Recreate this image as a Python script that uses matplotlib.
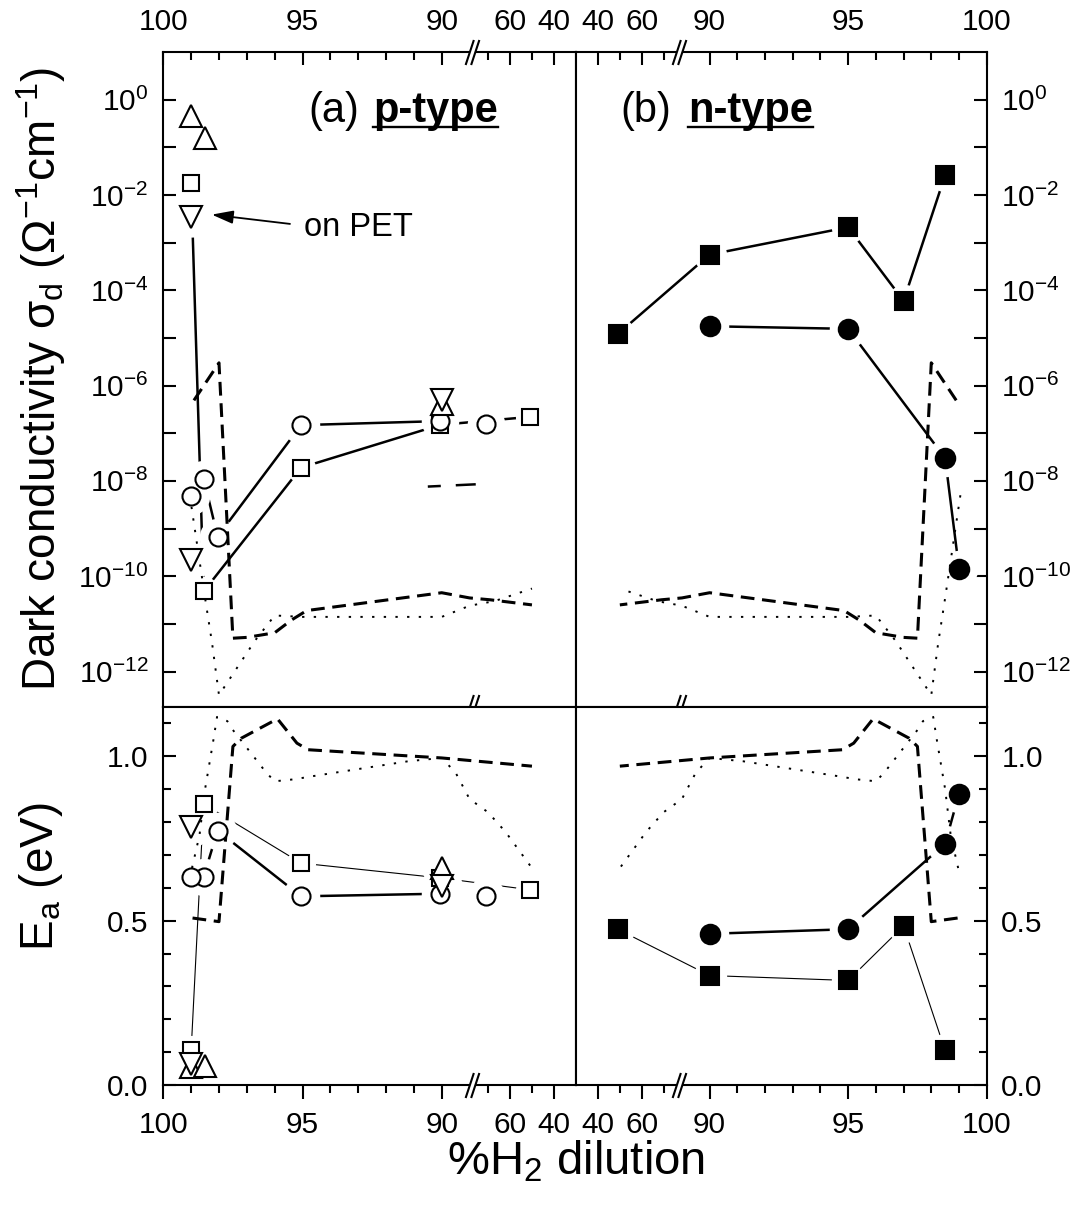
import numpy as np
import matplotlib.pyplot as plt
from matplotlib.lines import Line2D
from matplotlib.path import Path
from matplotlib.ticker import FixedLocator, FixedFormatter, NullLocator, NullFormatter

plt.rcParams.update({
    "font.family": ["Liberation Sans", "DejaVu Sans"],
    "mathtext.fontset": "custom",
    "mathtext.rm": "Liberation Sans",
    "mathtext.it": "Liberation Sans:italic",
    "mathtext.bf": "Liberation Sans:bold",
    "axes.linewidth": 1.5,
})

# ---------------- data: (a) p-type ----------------
# open squares (connected)
p_sq_dil = [99.0, 98.55, 95.05, 90.05, 51.0]
p_sq_sig = [1.75e-2, 4.8e-11, 1.9e-8, 1.5e-7, 2.2e-7]
p_sq_ea = [0.105, 0.855, 0.675, 0.63, 0.594]
# open circles (connected)
p_ci_dil = [98.55, 98.05, 95.05, 90.05]
p_ci_sig = [1.12e-8, 6.8e-10, 1.48e-7, 1.8e-7]
p_ci_ea = [0.634, 0.774, 0.574, 0.582]
# open circles (single points)
p_ci1_dil = [99.0, 71.0]
p_ci1_sig = [4.9e-9, 1.6e-7]
p_ci1_ea = [0.634, 0.574]
# open triangles up / down (single points)
p_tu_dil = [99.0, 98.5, 90.0]
p_tu_sig = [0.46, 0.16, 4.2e-7]
p_tu_ea = [0.056, 0.058, 0.66]
p_td_dil = [99.0, 99.0, 90.0]
p_td_sig = [3.4e-3, 2.2e-10, 5.1e-7]
p_td_ea = [0.065, 0.785, 0.604]
# short dashed stub
p_stub_dil = [90.5, 75.0]
p_stub_sig = [7.6e-9, 8.5e-9]

# ---------------- data: (b) n-type ----------------
n_sq_dil = [49.0, 90.0, 95.0, 97.0, 98.5]
n_sq_sig = [1.2e-5, 5.6e-4, 2.1e-3, 6.0e-5, 2.6e-2]
n_sq_ea = [0.474, 0.333, 0.318, 0.484, 0.105]
n_ci_dil = [90.0, 95.0, 98.5, 99.0]
n_ci_sig = [1.76e-5, 1.55e-5, 3.0e-8, 1.45e-10]
n_ci_ea = [0.46, 0.474, 0.734, 0.886]

# ---------------- dashed / dotted curves (drawn in every panel) ----------------
dash_dil = [98.9, 98.0, 97.5, 97.0, 96.0, 95.4, 94.85, 90.0, 89.0, 69.0, 50.0]
dash_sig = [4.9e-7, 3.0e-6, 5.0e-12, 5.2e-12, 6.5e-12, 1.2e-11, 1.9e-11, 4.5e-11, 3.5e-11, 3.2e-11, 2.5e-11]
dot_dil = [99.05, 98.5, 98.25, 98.0, 96.7, 96.0, 95.0, 90.0, 89.0, 67.0, 50.0]
dot_sig = [5.0e-9, 3.5e-11, 4.0e-12, 3.2e-13, 4.5e-12, 1.5e-11, 1.4e-11, 1.4e-11, 2.4e-11, 3.0e-11, 5.5e-11]
dash_ea_dil = [98.95, 98.0, 97.5, 97.2, 95.9, 95.2, 94.8, 90.0, 50.0]
dash_ea = [0.508, 0.497, 1.03, 1.055, 1.114, 1.04, 1.02, 0.995, 0.97]
dot_ea_dil = [98.97, 98.7, 98.5, 98.2, 98.07, 97.7, 97.5, 96.9, 96.3, 96.0, 95.3, 94.6,
              91.2, 90.0, 89.5, 89.0, 70.0, 62.0, 50.0]
dot_ea = [0.66, 0.76, 0.9, 1.05, 1.12, 1.107, 1.08, 1.015, 0.95, 0.924, 0.93, 0.94,
          0.985, 0.995, 0.95, 0.87, 0.83, 0.77, 0.66]

# ticks
dil_ticks = [100, 95, 90, 60, 40]
dil_labels = ["100", "95", "90", "60", "40"]
dil_minor = [99, 98, 97, 96, 94, 93, 92, 91, 70, 50]
sig_ticks = [1e0, 1e-1, 1e-2, 1e-3, 1e-4, 1e-5, 1e-6, 1e-7, 1e-8, 1e-9, 1e-10, 1e-11, 1e-12]
sig_labels = [r"$\mathregular{10^{0}}$", "", r"$\mathregular{10^{-2}}$", "",
              r"$\mathregular{10^{-4}}$", "", r"$\mathregular{10^{-6}}$", "",
              r"$\mathregular{10^{-8}}$", "", r"$\mathregular{10^{-10}}$", "",
              r"$\mathregular{10^{-12}}$"]
ea_ticks = [0.0, 0.5, 1.0]
ea_labels = ["0.0", "0.5", "1.0"]
ea_minor = [0.1, 0.2, 0.3, 0.4, 0.6, 0.7, 0.8, 0.9, 1.1]

# broken x axis: 100..88.9 at full scale, 77..30 compressed
BRK_LO, BRK_HI = 77.0, 88.9
LOW_STEP = 0.0791
knot_d = [30.0, BRK_LO, BRK_HI, 100.0]
knot_u = [0.0, (BRK_LO - 30) * LOW_STEP, (BRK_LO - 30) * LOW_STEP + 0.005,
          (BRK_LO - 30) * LOW_STEP + 0.005 + (100 - BRK_HI)]


def dil_fwd(d):
    return np.interp(d, knot_d, knot_u)


def dil_inv(u):
    return np.interp(u, knot_u, knot_d)


W, H = 1089, 1218
fig = plt.figure(figsize=(W / 100, H / 100), dpi=100)


def box(x0, y0, x1, y1):
    return [x0 / W, 1 - y1 / H, (x1 - x0) / W, (y1 - y0) / H]


ax_pt = fig.add_axes(box(163.3, 52, 576, 707))
ax_nt = fig.add_axes(box(576, 52, 986.7, 707))
ax_pb = fig.add_axes(box(163.3, 707, 576, 1085))
ax_nb = fig.add_axes(box(576, 707, 986.7, 1085))

for ax, top, left in [(ax_pt, True, True), (ax_nt, True, False),
                      (ax_pb, False, True), (ax_nb, False, False)]:
    ax.set_xscale("function", functions=(dil_fwd, dil_inv))
    ax.set_xlim(100, 30) if left else ax.set_xlim(30, 100)
    ax.xaxis.set_major_locator(FixedLocator(dil_ticks))
    ax.xaxis.set_major_formatter(FixedFormatter(dil_labels))
    ax.xaxis.set_minor_locator(FixedLocator(dil_minor))
    ax.xaxis.set_minor_formatter(NullFormatter())
    if top:
        ax.set_yscale("log")
        ax.set_ylim(1.8e-13, 10)
        ax.yaxis.set_major_locator(FixedLocator(sig_ticks))
        ax.yaxis.set_major_formatter(FixedFormatter(sig_labels))
        ax.yaxis.set_minor_locator(NullLocator())
        ax.tick_params(axis="x", which="both", direction="in", top=True, bottom=False,
                       labeltop=True, labelbottom=False, pad=11.5)
        ax.tick_params(axis="x", which="major", length=9.4)
    else:
        ax.set_ylim(0, 1.15)
        ax.yaxis.set_major_locator(FixedLocator(ea_ticks))
        ax.yaxis.set_major_formatter(FixedFormatter(ea_labels))
        ax.yaxis.set_minor_locator(FixedLocator(ea_minor))
        ax.tick_params(axis="x", which="both", direction="out", top=False, bottom=True,
                       pad=9)
        ax.tick_params(axis="x", which="major", length=10)
    ax.tick_params(axis="x", which="minor", length=5.8)
    ax.tick_params(axis="y", which="both", direction="in", left=left, right=not left,
                   labelleft=left, labelright=not left, pad=10.5)
    ax.tick_params(axis="y", which="major", length=9.4)
    ax.tick_params(axis="y", which="minor", length=5.8)
    ax.tick_params(which="both", width=1.5, labelsize=21.5)

    # reference curves
    if top:
        ax.plot(dash_dil, dash_sig, color="k", lw=2.2, dashes=(4.5, 2.5), zorder=2.3)
        ax.plot(dot_dil, dot_sig, color="k", lw=1.4, dashes=(1.2, 4.8), zorder=2.3)
    else:
        ax.plot(dash_ea_dil, dash_ea, color="k", lw=2.2, dashes=(4.5, 2.5), zorder=2.3)
        ax.plot(dot_ea_dil, dot_ea, color="k", lw=1.4, dashes=(1.2, 4.8), zorder=2.3)


def series(ax, x, y, marker, ms, halo, lw=None, filled=False):
    if lw:
        ax.plot(x, y, "-", color="k", lw=lw, zorder=2)
    ax.plot(x, y, ls="none", marker="o", ms=halo, mfc="white", mec="none", zorder=2.2)
    ax.plot(x, y, ls="none", marker=marker, ms=ms, mfc="k" if filled else "white",
            mec="k", mew=1.5, zorder=3)


# p-type conductivity
series(ax_pt, p_sq_dil, p_sq_sig, "s", 11.7, 21, lw=1.8)
series(ax_pt, p_ci_dil, p_ci_sig, "o", 13, 27, lw=1.8)
series(ax_pt, p_ci1_dil, p_ci1_sig, "o", 13, 27)
series(ax_pt, p_tu_dil, p_tu_sig, "^", 16.5, 29)
series(ax_pt, p_td_dil, p_td_sig, "v", 16.5, 29)
ax_pt.plot(p_stub_dil, p_stub_sig, color="k", lw=1.8, dashes=(5.2, 6, 8, 6), zorder=2)
# p-type activation energy
series(ax_pb, p_sq_dil, p_sq_ea, "s", 11.7, 21, lw=0.8)
series(ax_pb, p_ci_dil, p_ci_ea, "o", 13, 27, lw=1.8)
series(ax_pb, p_ci1_dil, p_ci1_ea, "o", 13, 27)
series(ax_pb, p_tu_dil, p_tu_ea, "^", 16.5, 29)
series(ax_pb, p_td_dil, p_td_ea, "v", 16.5, 29)
# n-type
series(ax_nt, n_sq_dil, n_sq_sig, "s", 13, 24, lw=1.8, filled=True)
series(ax_nt, n_ci_dil, n_ci_sig, "o", 14, 27, lw=1.8, filled=True)
series(ax_nb, n_sq_dil, n_sq_ea, "s", 13, 24, lw=0.8, filled=True)
series(ax_nb, n_ci_dil, n_ci_ea, "o", 14, 27, lw=1.8, filled=True)

# "on PET" annotation
ax_pt.annotate("", xy=(98.26, 3.87e-3), xytext=(95.45, 2.47e-3),
               arrowprops=dict(arrowstyle="-|>,head_length=0.65,head_width=0.2",
                               color="k", lw=1.3, mutation_scale=20,
                               shrinkA=0, shrinkB=0), zorder=6)
ax_pt.text(94.96, 1.41e-3, "on PET", fontsize=23.5, ha="left", va="baseline", zorder=6)

# axis break marks "//"
slash = Path([(-0.55, -1), (0.11, 1), (-0.11, -1), (0.55, 1)],
             [Path.MOVETO, Path.LINETO, Path.MOVETO, Path.LINETO])
slash_fill = Path([(-0.55, -1), (0.11, 1), (0.55, 1), (-0.11, -1), (-0.55, -1)],
                  [Path.MOVETO, Path.LINETO, Path.LINETO, Path.LINETO, Path.CLOSEPOLY])
for ax, ypos in [(ax_pt, 1), (ax_pt, 0), (ax_pb, 0), (ax_nt, 1), (ax_nt, 0), (ax_nb, 0)]:
    tr = ax.get_xaxis_transform()
    ax.plot([83], [ypos], marker=slash_fill, ms=18, mfc="white", mec="white", mew=0.5,
            transform=tr, clip_on=False, zorder=7)
    ax.plot([83], [ypos], marker=slash, ms=18, mfc="none", mec="k", mew=1.5,
            transform=tr, clip_on=False, zorder=8)

# panel titles
renderer = fig.canvas.get_renderer()


def title(x1, x2, s1, s2):
    fig.text(x1 / W, 1 - 122 / H, s1, fontsize=30, ha="left", va="baseline")
    t = fig.text(x2 / W, 1 - 122 / H, s2, fontsize=30, fontweight="bold",
                 ha="left", va="baseline")
    bb = t.get_window_extent(renderer=renderer)
    yu = 1 - 127 / H
    fig.add_artist(Line2D([bb.x0 / W, bb.x1 / W], [yu, yu], color="k", lw=1.7))


title(308, 373.3, "(a)", "p-type")
title(620, 688.3, "(b)", "n-type")

# axis labels
fig.text(41 / W, 1 - 379 / H,
         r"Dark conductivity σ$_\mathregular{d}$ (Ω$^\mathregular{-1}$cm$^\mathregular{-1}$)",
         fontsize=33, rotation=90, ha="center", va="center")
fig.text(41 / W, 1 - 877 / H, r"E$_\mathregular{a}$ (eV)", fontsize=33, rotation=90,
         ha="center", va="center")
fig.text(576 / W, 1 - 1175 / H, r"%H$_\mathregular{2}$ dilution", fontsize=34,
         ha="center", va="baseline")

fig.savefig("out.png", dpi=100)
